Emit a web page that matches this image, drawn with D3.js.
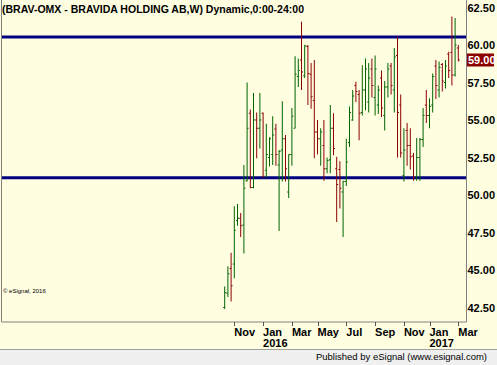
<!DOCTYPE html>
<html>
<head>
<meta charset="utf-8">
<script src="https://cdn.jsdelivr.net/npm/d3@7"></script>
<style>
  body { margin: 0; background: #fffee1; }
  svg { display: block; font-family: "Liberation Sans", Arial, sans-serif; }
</style>
</head>
<body>
<svg id="chart" width="497" height="365"></svg>
<script>
// Weekly bars, one per Monday from the first to the last week
const firstWeek = "2015-10-12";
const lastWeek = "2017-03-06";

const opens = [42.50, 43.45, 45.10, 45.40, 48.30, 48.45, 48.00, 50.95, 55.45, 50.50,
  55.00, 54.45, 55.45, 51.65, 52.50, 52.70, 54.40, 52.00, 53.00, 53.75,
  50.20, 52.70, 54.45, 57.90, 59.00, 57.95, 59.90, 58.05, 56.30, 54.20,
  53.75, 53.30, 51.75, 52.35, 54.45, 51.75, 51.70, 50.20, 50.90, 53.50,
  55.00, 57.30, 56.70, 55.50, 57.00, 56.20, 58.40, 56.50, 56.00, 57.80,
  55.30, 57.20, 58.60, 57.00, 59.30, 56.00, 51.30, 54.30, 53.30, 52.60,
  51.20, 52.50, 53.70, 56.00, 55.30, 56.00, 58.60, 57.00, 58.70, 57.50,
  59.40, 59.50, 58.00, 59.80];
const highs = [43.90, 45.25, 46.15, 49.25, 49.40, 48.80, 52.00, 57.50, 55.70, 56.80,
  55.50, 56.80, 55.50, 54.75, 53.85, 55.25, 54.75, 53.00, 56.25, 54.00,
  52.70, 55.80, 59.25, 59.10, 61.55, 60.00, 60.00, 58.80, 59.00, 55.00,
  54.45, 55.00, 52.50, 56.00, 55.45, 52.55, 52.25, 50.95, 53.75, 55.90,
  57.00, 57.55, 57.00, 58.65, 59.10, 58.80, 59.10, 59.30, 57.30, 58.30,
  57.60, 58.80, 58.80, 59.80, 60.55, 56.70, 54.45, 54.80, 54.45, 52.80,
  53.80, 53.80, 55.80, 57.00, 56.45, 58.10, 59.00, 58.90, 58.80, 59.00,
  59.55, 61.90, 61.80, 60.00];
const lows = [42.40, 43.20, 42.90, 44.45, 47.95, 47.20, 46.10, 50.90, 50.45, 50.45,
  52.45, 53.10, 51.15, 51.15, 51.90, 52.00, 51.95, 47.60, 50.90, 50.90,
  49.80, 51.95, 54.45, 57.20, 57.00, 57.80, 56.00, 55.75, 52.45, 52.70,
  51.95, 50.95, 51.45, 51.45, 52.65, 48.20, 49.10, 47.20, 50.60, 53.20,
  54.95, 56.20, 53.65, 55.30, 55.65, 55.50, 56.50, 55.30, 55.40, 55.20,
  54.30, 56.50, 56.70, 55.50, 52.50, 52.50, 50.90, 51.95, 51.70, 50.95,
  50.95, 50.95, 53.20, 54.80, 54.45, 55.50, 56.40, 56.50, 56.90, 57.10,
  57.80, 57.30, 57.90, 58.90];
const closes = [43.50, 44.75, 43.95, 47.65, 48.45, 47.95, 50.45, 54.45, 50.50, 55.00,
  54.45, 55.00, 51.25, 52.70, 53.75, 54.00, 52.70, 52.90, 53.75, 51.75,
  52.70, 55.25, 58.05, 58.30, 58.20, 59.95, 58.10, 56.55, 54.20, 53.75,
  54.20, 51.75, 52.30, 54.45, 53.10, 50.70, 50.45, 50.90, 52.20, 55.50,
  56.60, 56.90, 55.45, 57.00, 58.40, 57.80, 57.30, 58.40, 57.00, 55.80,
  57.20, 58.40, 57.30, 59.20, 55.50, 52.80, 53.00, 53.30, 52.55, 51.20,
  52.50, 53.70, 55.30, 55.30, 55.90, 57.90, 57.30, 58.50, 57.60, 58.60,
  58.30, 58.00, 60.00, 59.00];

// Horizontal support / resistance lines
const levels = [60.53, 51.15];

// Price axis and time axis labels
const priceTicks = [42.5, 45, 47.5, 50, 52.5, 55, 57.5, 60, 62.5];
const tickWeeks = ["2015-11-02", "2016-01-04", "2016-03-07", "2016-05-02", "2016-07-04",
  "2016-09-05", "2016-11-07", "2017-01-02", "2017-03-06"];
const tickLabels = ["Nov", "Jan", "Mar", "May", "Jul", "Sep", "Nov", "Jan", "Mar"];
const yearLabels = ["", "2016", "", "", "", "", "", "2017", ""];

const title = "(BRAV-OMX - BRAVIDA HOLDING AB,W) Dynamic,0:00-24:00";

const parse = d3.timeParse("%Y-%m-%d");
const fmt = d3.timeFormat("%Y-%m-%d");
const weeks = d3.timeMonday.range(parse(firstWeek), d3.timeDay.offset(parse(lastWeek), 1)).map(fmt);

const data = weeks.map((w, i) => ({ week: w, o: opens[i], h: highs[i], l: lows[i], c: closes[i] }));

// Plot frame
const plot = { left: 2, right: 466.5, top: 0, bottom: 322 };
const upColor = "#006400", downColor = "#8c0000";

const svg = d3.select("#chart");

const x = d3.scalePoint()
    .domain(weeks)
    .range([224.7, 458.3]);

const y = d3.scaleLinear()
    .domain([42.5, 62.5])
    .range([307.5, 7.5]);

// Background
svg.append("rect")
    .attr("width", 497).attr("height", 365)
    .attr("fill", "#fffee1");

// Levels
svg.selectAll(".level")
    .data(levels)
    .enter()
    .append("line")
    .attr("class", "level")
    .attr("x1", plot.left).attr("x2", plot.right)
    .attr("y1", d => y(d)).attr("y2", d => y(d))
    .attr("stroke", "#000080")
    .attr("stroke-width", 3);

// OHLC bars
const bars = svg.append("g")
    .selectAll("g")
    .data(data)
    .enter()
    .append("g")
    .attr("stroke", d => d.c >= d.o ? upColor : downColor)
    .attr("stroke-width", 1);

bars.append("line")
    .attr("x1", d => x(d.week)).attr("x2", d => x(d.week))
    .attr("y1", d => y(d.h)).attr("y2", d => y(d.l));

bars.append("line")
    .attr("x1", d => x(d.week) - 1.5).attr("x2", d => x(d.week))
    .attr("y1", d => y(d.o)).attr("y2", d => y(d.o));

bars.append("line")
    .attr("x1", d => x(d.week)).attr("x2", d => x(d.week) + 1.5)
    .attr("y1", d => y(d.c)).attr("y2", d => y(d.c));

// Frame
svg.append("path")
    .attr("d", `M${plot.left - 0.5},0V${plot.bottom}H${plot.right}V0`)
    .attr("fill", "none")
    .attr("stroke", "#808080")
    .attr("stroke-width", 1);

// Right price axis
const yAxis = svg.append("g")
    .attr("transform", `translate(${plot.right},0)`)
    .call(d3.axisRight(y).tickValues(priceTicks).tickSize(0).tickPadding(1).tickFormat(d3.format(".2f")));
yAxis.select(".domain").remove();
yAxis.selectAll("text")
    .attr("fill", "#000")
    .style("font-size", "11px")
    .style("font-weight", "bold");

// Last price marker
const last = data[data.length - 1];
svg.append("rect")
    .attr("x", plot.right + 0.5).attr("y", y(last.c) - 6.5)
    .attr("width", 27).attr("height", 13)
    .attr("fill", "#8c0000");
svg.append("text")
    .attr("x", plot.right + 1.5).attr("y", y(last.c))
    .attr("dy", "0.35em")
    .attr("fill", "#fff")
    .style("font-size", "11px")
    .style("font-weight", "bold")
    .text(d3.format(".2f")(last.c));

// Bottom time axis
const xTicks = svg.append("g");
xTicks.selectAll("line")
    .data(tickWeeks)
    .enter()
    .append("line")
    .attr("x1", d => Math.round(x(d)) + 0.5).attr("x2", d => Math.round(x(d)) + 0.5)
    .attr("y1", plot.bottom).attr("y2", plot.bottom + 4)
    .attr("stroke", "#555");
xTicks.selectAll(".month")
    .data(tickWeeks)
    .enter()
    .append("text")
    .attr("class", "month")
    .attr("x", d => x(d))
    .attr("y", 336)
    .style("font-size", "11px")
    .style("font-weight", "bold")
    .text((d, i) => tickLabels[i]);
xTicks.selectAll(".year")
    .data(tickWeeks)
    .enter()
    .append("text")
    .attr("class", "year")
    .attr("x", d => x(d))
    .attr("y", 347)
    .style("font-size", "11px")
    .style("font-weight", "bold")
    .text((d, i) => yearLabels[i]);

// Title
svg.append("text")
    .attr("x", 2).attr("y", 12.5)
    .attr("textLength", 302)
    .attr("lengthAdjust", "spacingAndGlyphs")
    .style("font-size", "11px")
    .style("font-weight", "bold")
    .text(title);

// Copyright
svg.append("text")
    .attr("x", 3).attr("y", 293)
    .style("font-size", "6px")
    .text("\u00a9 eSignal, 2016");

// Publisher strip
svg.append("rect")
    .attr("x", 0).attr("y", 349.5)
    .attr("width", 497).attr("height", 16)
    .attr("fill", "#f0f0f0");
svg.append("line")
    .attr("x1", 0).attr("x2", 497)
    .attr("y1", 349.5).attr("y2", 349.5)
    .attr("stroke", "#a0a0a0");
svg.append("text")
    .attr("x", 487).attr("y", 360)
    .attr("text-anchor", "end")
    .style("font-size", "9.5px")
    .text("Published by eSignal (www.esignal.com)");
</script>
</body>
</html>
